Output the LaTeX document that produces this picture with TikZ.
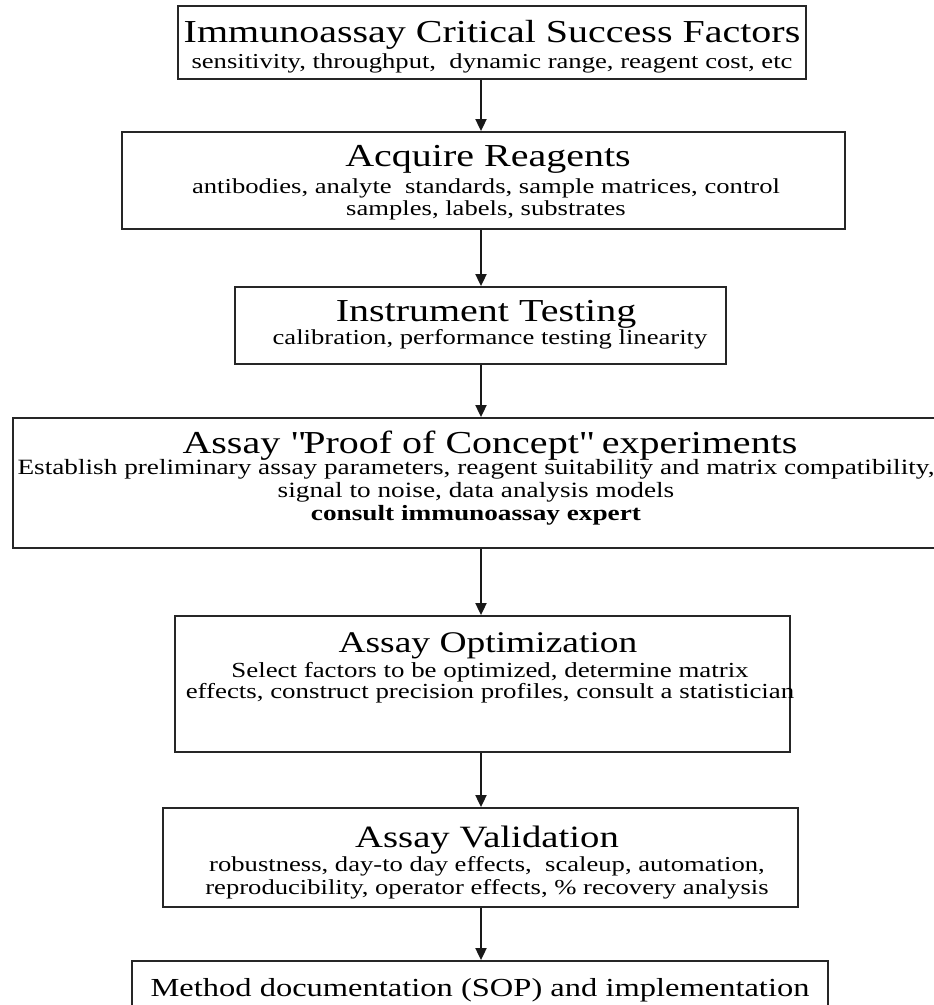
\documentclass[tikz,border=0pt]{standalone}
\usepackage{fontspec}
\setmainfont{Liberation Serif}[FakeStretch=1.25]
\usetikzlibrary{arrows.meta,positioning}

\newcommand{\titlesize}{\fontsize{32}{36}\selectfont}
\newcommand{\bodysize}{\fontsize{21.3}{22.5}\selectfont}

\tikzset{
  stage/.style={draw=black!85,line width=1.8pt,inner sep=0pt},
  heading/.style={inner sep=0pt,anchor=base,font=\titlesize},
  detail/.style={inner sep=0pt,anchor=north,align=center,font=\bodysize},
  flow/.style={-{Triangle[width=11pt,length=12pt]},line width=1.8pt,black!90}
}

\begin{document}
\begin{tikzpicture}[x=1pt,y=-1pt]
\useasboundingbox (0,0) rectangle (934,1005);
\coordinate (spine) at (481,0);

\node (crit) at (492,42.5) [stage,minimum width=628pt,minimum height=73pt]{};
\node (critH) at (492,42) [heading]{Immunoassay Critical Success Factors};
\node (critB) at (492,53.5) [detail]{sensitivity, throughput,\ \ dynamic range, reagent cost, etc};

\node (reag) at (483.5,180.5) [stage,minimum width=723pt,minimum height=97pt]{};
\node (reagH) at (488,166) [heading]{Acquire Reagents};
\node (reagB) at (486,178.5) [detail]{antibodies, analyte\ \ standards, sample matrices, control\\samples, labels, substrates};

\node (inst) at (480.5,325.5) [stage,minimum width=491pt,minimum height=77pt]{};
\node (instH) at (486,321) [heading]{Instrument Testing};
\node (instB) at (490,329.5) [detail]{calibration, performance testing linearity};

\node (proof) at (478,483) [stage,minimum width=930pt,minimum height=130pt]{};
\node (proofH) at (490,453) [heading]{Assay \textquotedbl Proof of Concept\textquotedbl\ experiments};
\node (proofB) at (476,459.5) [detail,font=\fontsize{21.8}{23}\selectfont]{Establish preliminary assay parameters, reagent suitability and matrix compatibility,\\signal to noise, data analysis models\\\textbf{consult immunoassay expert}};

\node (optim) at (482.5,684) [stage,minimum width=615pt,minimum height=136pt]{};
\node (optimH) at (488,652) [heading,font=\fontsize{30}{34}\selectfont]{Assay Optimization};
\node (optimB) at (490,662.5) [detail,font=\fontsize{21.5}{21}\selectfont]{Select factors to be optimized, determine matrix\\effects, construct precision profiles, consult a statistician};

\node (valid) at (480.5,857.5) [stage,minimum width=635pt,minimum height=99pt]{};
\node (validH) at (487,847) [heading,font=\fontsize{31}{34}\selectfont]{Assay Validation};
\node (validB) at (487,856.5) [detail,font=\fontsize{21.3}{23}\selectfont]{robustness, day-to day effects,\ \ scaleup, automation,\\reproducibility, operator effects, \% recovery analysis};

\node (sop) at (480,1005.5) [stage,minimum width=696pt,minimum height=89pt]{};
\node (sopH) at (480,996) [heading,font=\fontsize{26}{30}\selectfont]{Method documentation (SOP) and implementation};

\draw[flow] (crit.south -| spine) -- (reag.north -| spine);
\draw[flow] (reag.south -| spine) -- (inst.north -| spine);
\draw[flow] (inst.south -| spine) -- (proof.north -| spine);
\draw[flow] (proof.south -| spine) -- (optim.north -| spine);
\draw[flow] (optim.south -| spine) -- (valid.north -| spine);
\draw[flow] (valid.south -| spine) -- (sop.north -| spine);
\end{tikzpicture}
\end{document}
